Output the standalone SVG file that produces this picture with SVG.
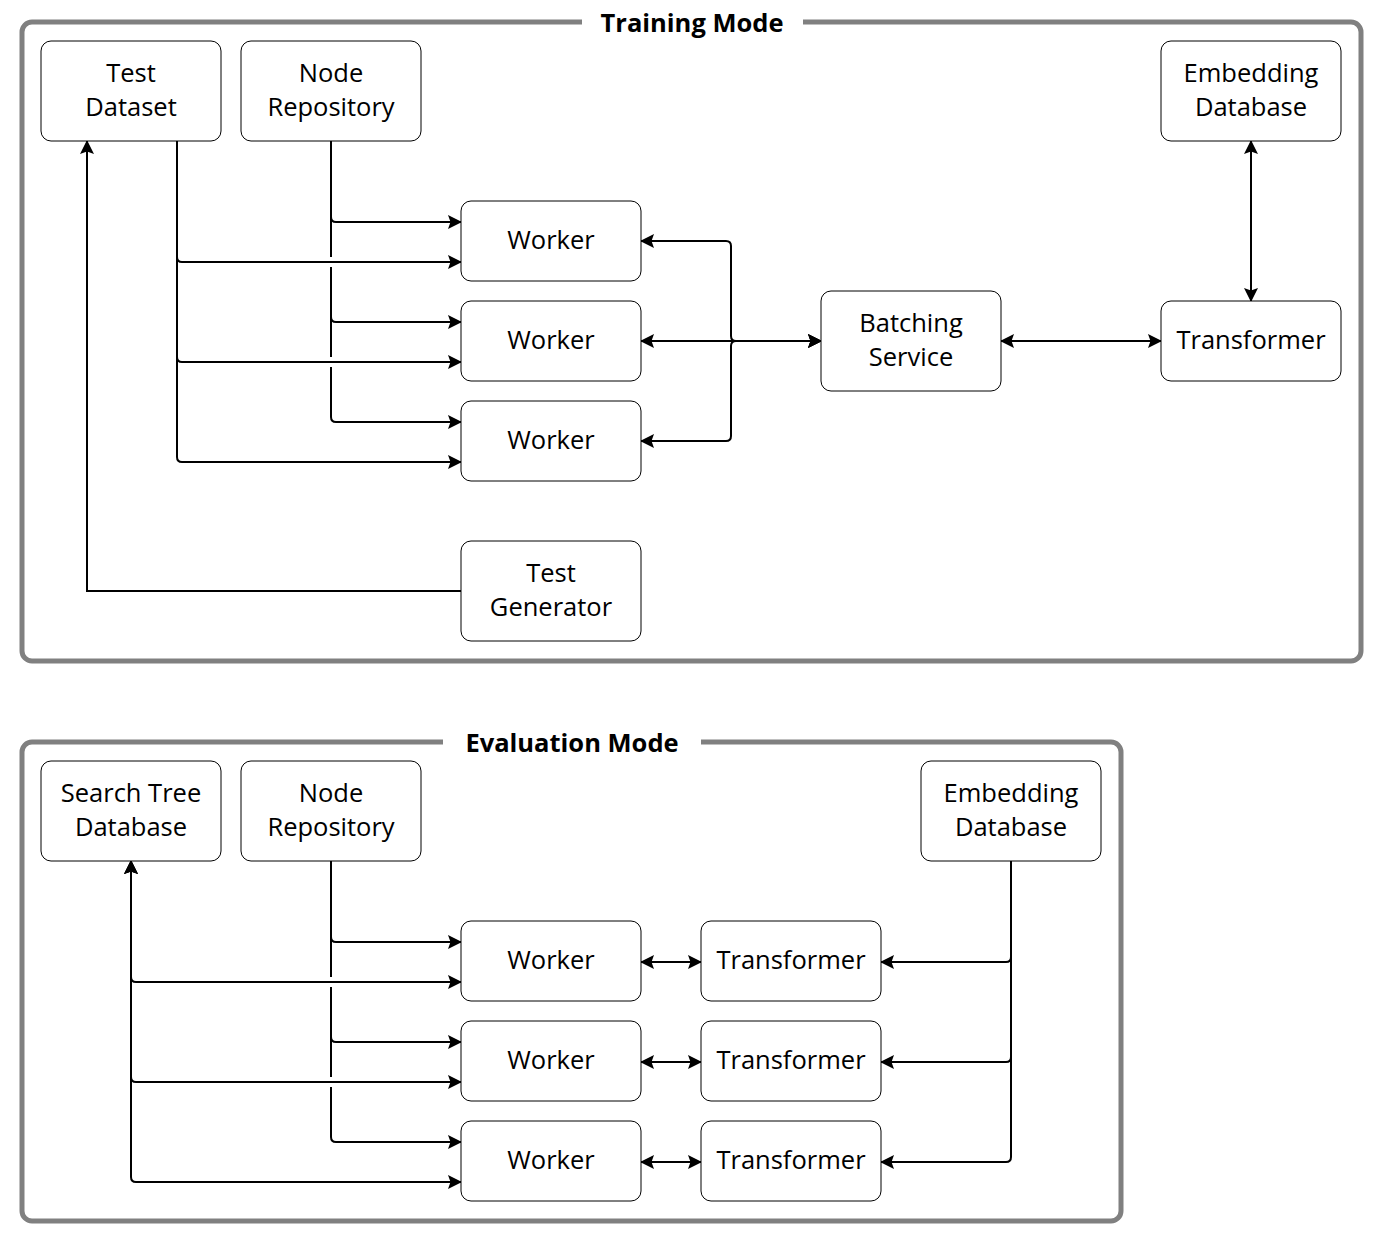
<svg xmlns="http://www.w3.org/2000/svg" width="1383" height="1243" viewBox="0 0 1383 1243">
<defs>
<marker id="arr" viewBox="0 0 14 14" refX="13" refY="7" markerWidth="14" markerHeight="14" markerUnits="userSpaceOnUse" orient="auto-start-reverse">
<path d="M0,0 L14,7 L0,14 L2.5,7 Z" fill="#000"/>
</marker>
<style>
.frame{fill:none;stroke:#808080;stroke-width:5}
.gap{fill:#fff;stroke:none}
.title{font-family:"Open Sans","Noto Sans",sans-serif;font-weight:bold;font-size:25.5px;text-anchor:middle;fill:#000}
.box{fill:#fff;stroke:#000;stroke-width:1}
.lbl{font-family:"Open Sans","Noto Sans",sans-serif;font-size:25.5px;text-anchor:middle;fill:#000}
.c{fill:none;stroke:#000;stroke-width:2}
.e{marker-end:url(#arr)}
.b{marker-start:url(#arr);marker-end:url(#arr)}
</style>
</defs>
<rect width="1383" height="1243" fill="#fff"/>
<g id="training-frame">
<rect class="frame" x="22" y="22" width="1339" height="639" rx="10"/>
<rect class="gap" x="582" y="12" width="221" height="20"/>
<text class="title" x="692" y="32">Training Mode</text>
</g>
<g id="evaluation-frame">
<rect class="frame" x="22" y="742" width="1099" height="479" rx="10"/>
<rect class="gap" x="443" y="732" width="258" height="20"/>
<text class="title" x="572" y="752">Evaluation Mode</text>
</g>
<g id="connectors">
<path class="c e" d="M177,141 L177,257 Q177,262 182,262 L461,262"/>
<path class="c e" d="M177,141 L177,357 Q177,362 182,362 L461,362"/>
<path class="c e" d="M177,141 L177,457 Q177,462 182,462 L461,462"/>
<path class="c e" d="M331,141 L331,217 Q331,222 336,222 L461,222"/>
<path class="c e" d="M331,141 L331,257 M331,267 L331,317 Q331,322 336,322 L461,322"/>
<path class="c e" d="M331,141 L331,257 M331,267 L331,357 M331,367 L331,417 Q331,422 336,422 L461,422"/>
<path class="c b" d="M821,341 L736,341 Q731,341 731,336 L731,246 Q731,241 726,241 L641,241"/>
<path class="c b" d="M821,341 L641,341"/>
<path class="c b" d="M821,341 L736,341 Q731,341 731,346 L731,436 Q731,441 726,441 L641,441"/>
<path class="c b" d="M1001,341 L1161,341"/>
<path class="c b" d="M1251,141 L1251,301"/>
<path class="c e" d="M461,591 L87,591 L87,141"/>
<path class="c b" d="M131,861 L131,977 Q131,982 136,982 L461,982"/>
<path class="c b" d="M131,861 L131,1077 Q131,1082 136,1082 L461,1082"/>
<path class="c b" d="M131,861 L131,1177 Q131,1182 136,1182 L461,1182"/>
<path class="c e" d="M331,861 L331,937 Q331,942 336,942 L461,942"/>
<path class="c e" d="M331,861 L331,977 M331,987 L331,1037 Q331,1042 336,1042 L461,1042"/>
<path class="c e" d="M331,861 L331,977 M331,987 L331,1077 M331,1087 L331,1137 Q331,1142 336,1142 L461,1142"/>
<path class="c b" d="M641,962 L701,962"/>
<path class="c b" d="M641,1062 L701,1062"/>
<path class="c b" d="M641,1162 L701,1162"/>
<path class="c e" d="M1011,861 L1011,957 Q1011,962 1006,962 L881,962"/>
<path class="c e" d="M1011,861 L1011,1057 Q1011,1062 1006,1062 L881,1062"/>
<path class="c e" d="M1011,861 L1011,1157 Q1011,1162 1006,1162 L881,1162"/>
</g>
<g id="t-test-dataset"><rect class="box" x="41" y="41" width="180" height="100" rx="10"/><text class="lbl" x="131" y="82">Test</text><text class="lbl" x="131" y="116">Dataset</text></g>
<g id="t-node-repository"><rect class="box" x="241" y="41" width="180" height="100" rx="10"/><text class="lbl" x="331" y="82">Node</text><text class="lbl" x="331" y="116">Repository</text></g>
<g id="t-embedding-database"><rect class="box" x="1161" y="41" width="180" height="100" rx="10"/><text class="lbl" x="1251" y="82">Embedding</text><text class="lbl" x="1251" y="116">Database</text></g>
<g id="t-worker-1"><rect class="box" x="461" y="201" width="180" height="80" rx="10"/><text class="lbl" x="551" y="249">Worker</text></g>
<g id="t-worker-2"><rect class="box" x="461" y="301" width="180" height="80" rx="10"/><text class="lbl" x="551" y="349">Worker</text></g>
<g id="t-worker-3"><rect class="box" x="461" y="401" width="180" height="80" rx="10"/><text class="lbl" x="551" y="449">Worker</text></g>
<g id="t-batching-service"><rect class="box" x="821" y="291" width="180" height="100" rx="10"/><text class="lbl" x="911" y="332">Batching</text><text class="lbl" x="911" y="366">Service</text></g>
<g id="t-transformer"><rect class="box" x="1161" y="301" width="180" height="80" rx="10"/><text class="lbl" x="1251" y="349">Transformer</text></g>
<g id="t-test-generator"><rect class="box" x="461" y="541" width="180" height="100" rx="10"/><text class="lbl" x="551" y="582">Test</text><text class="lbl" x="551" y="616">Generator</text></g>
<g id="e-search-tree-database"><rect class="box" x="41" y="761" width="180" height="100" rx="10"/><text class="lbl" x="131" y="802">Search Tree</text><text class="lbl" x="131" y="836">Database</text></g>
<g id="e-node-repository"><rect class="box" x="241" y="761" width="180" height="100" rx="10"/><text class="lbl" x="331" y="802">Node</text><text class="lbl" x="331" y="836">Repository</text></g>
<g id="e-embedding-database"><rect class="box" x="921" y="761" width="180" height="100" rx="10"/><text class="lbl" x="1011" y="802">Embedding</text><text class="lbl" x="1011" y="836">Database</text></g>
<g id="e-worker-1"><rect class="box" x="461" y="921" width="180" height="80" rx="10"/><text class="lbl" x="551" y="969">Worker</text></g>
<g id="e-worker-2"><rect class="box" x="461" y="1021" width="180" height="80" rx="10"/><text class="lbl" x="551" y="1069">Worker</text></g>
<g id="e-worker-3"><rect class="box" x="461" y="1121" width="180" height="80" rx="10"/><text class="lbl" x="551" y="1169">Worker</text></g>
<g id="e-transformer-1"><rect class="box" x="701" y="921" width="180" height="80" rx="10"/><text class="lbl" x="791" y="969">Transformer</text></g>
<g id="e-transformer-2"><rect class="box" x="701" y="1021" width="180" height="80" rx="10"/><text class="lbl" x="791" y="1069">Transformer</text></g>
<g id="e-transformer-3"><rect class="box" x="701" y="1121" width="180" height="80" rx="10"/><text class="lbl" x="791" y="1169">Transformer</text></g>
</svg>
